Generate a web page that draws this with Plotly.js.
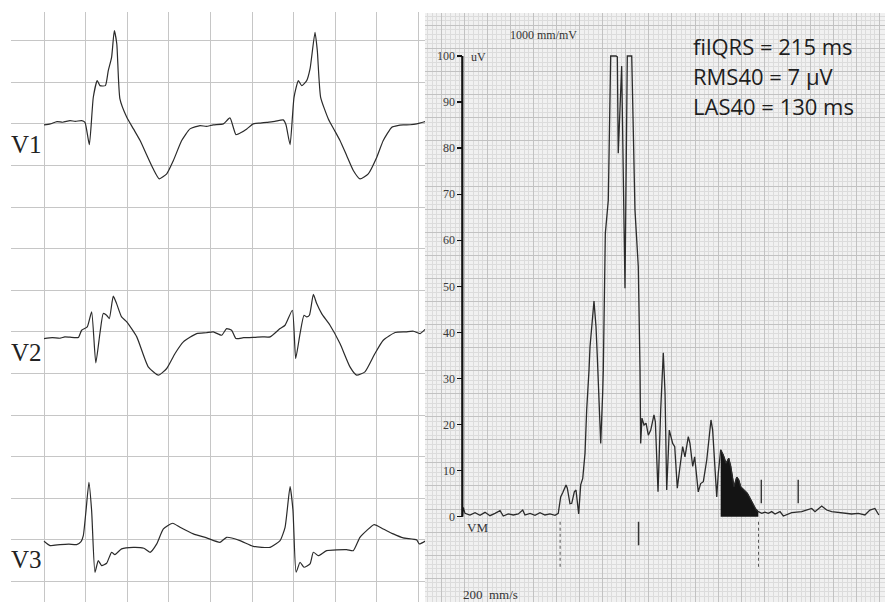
<!DOCTYPE html>
<html>
<head>
<meta charset="utf-8">
<script src="https://cdn.plot.ly/plotly-3.0.1.min.js"></script>
<style>html,body{margin:0;padding:0;background:#fff;}#chart{width:885px;height:602px;}</style>
</head>
<body>
<div id="chart"></div>
<script>
// ---------- DATA ----------
// Left panel: three ECG leads, time in seconds, amplitude in mV (relative to each lead's baseline)
const leadNames = ["V1", "V2", "V3"];

const v1Time = [0, 0.03, 0.0625, 0.09, 0.125, 0.15, 0.181, 0.197, 0.218, 0.237, 0.256, 0.269, 0.295, 0.309, 0.325, 0.338, 0.35, 0.365, 0.398, 0.43, 0.462, 0.495, 0.525, 0.554, 0.59, 0.622, 0.662, 0.702, 0.75, 0.78, 0.814, 0.862, 0.894, 0.923, 0.95, 0.975, 1.006, 1.04, 1.071, 1.11, 1.15, 1.163, 1.183, 1.202, 1.223, 1.239, 1.263, 1.279, 1.303, 1.314, 1.33, 1.367, 1.395, 1.423, 1.455, 1.487, 1.519, 1.559, 1.6, 1.631, 1.672, 1.70, 1.727, 1.76, 1.792, 1.837];
const v1mV   = [-0.012, 0.0, 0.028, 0.02, 0.04, 0.03, 0.04, 0.019, -0.249, 0.32, 0.52, 0.46, 0.46, 0.64, 0.80, 1.12, 0.96, 0.30, 0.079, -0.06, -0.20, -0.38, -0.54, -0.66, -0.60, -0.44, -0.20, -0.06, -0.02, -0.03, -0.012, 0, 0.072, -0.129, -0.10, -0.06, 0, 0.01, 0.019, 0.03, 0.048, -0.008, -0.249, 0.32, 0.52, 0.46, 0.52, 0.66, 1.10, 0.88, 0.32, 0.06, -0.07, -0.20, -0.38, -0.56, -0.66, -0.60, -0.40, -0.20, -0.04, -0.02, -0.012, -0.01, 0, 0.031];

const v2Time = [0, 0.04, 0.077, 0.1, 0.125, 0.165, 0.181, 0.208, 0.229, 0.249, 0.269, 0.285, 0.301, 0.314, 0.333, 0.349, 0.373, 0.398, 0.446, 0.501, 0.55, 0.59, 0.63, 0.67, 0.734, 0.78, 0.814, 0.854, 0.878, 0.902, 0.923, 0.96, 1.006, 1.05, 1.087, 1.135, 1.159, 1.194, 1.21, 1.231, 1.25, 1.263, 1.276, 1.295, 1.311, 1.335, 1.375, 1.423, 1.471, 1.503, 1.543, 1.591, 1.631, 1.688, 1.74, 1.776, 1.808, 1.832];
const v2mV   = [-0.08, -0.07, -0.076, -0.06, -0.064, -0.067, 0.02, 0.06, 0.24, -0.373, -0.016, 0.221, 0.20, 0.16, 0.429, 0.34, 0.18, 0.12, -0.06, -0.42, -0.52, -0.44, -0.26, -0.12, -0.02, -0.01, 0, -0.04, 0.04, 0.02, -0.08, -0.07, -0.067, -0.06, -0.06, 0.04, 0.08, 0.26, -0.32, -0.02, 0.20, 0.18, 0.20, 0.45, 0.34, 0.22, 0.08, -0.14, -0.42, -0.52, -0.48, -0.26, -0.10, -0.007, 0.0, 0.008, -0.02, 0.03];

const v3Time = [0, 0.029, 0.077, 0.12, 0.157, 0.178, 0.189, 0.202, 0.216, 0.229, 0.245, 0.261, 0.277, 0.301, 0.325, 0.341, 0.373, 0.429, 0.48, 0.51, 0.542, 0.574, 0.619, 0.654, 0.718, 0.782, 0.846, 0.878, 0.942, 1.006, 1.087, 1.135, 1.159, 1.183, 1.197, 1.212, 1.231, 1.25, 1.279, 1.295, 1.319, 1.359, 1.455, 1.487, 1.519, 1.551, 1.587, 1.631, 1.679, 1.727, 1.792, 1.804, 1.837];
const v3mV   = [-0.017, -0.069, -0.056, -0.05, -0.056, -0.02, 0.052, 0.352, 0.692, 0.352, -0.389, -0.249, -0.309, -0.281, -0.149, -0.177, -0.108, -0.089, -0.10, -0.149, -0.048, 0.132, 0.20, 0.151, 0.072, 0.024, -0.029, 0.031, -0.008, -0.077, -0.089, -0.008, 0.151, 0.64, 0.352, -0.389, -0.269, -0.329, -0.288, -0.149, -0.189, -0.129, -0.117, -0.129, 0.031, 0.112, 0.184, 0.132, 0.072, 0.024, 0, -0.048, -0.008];

// Right panel: signal-averaged vector magnitude, time in ms, amplitude in µV
const vmTime = [0, 1.1, 2.9, 8.3, 13.8, 19.2, 24.6, 30.0, 35.4, 40.9, 44.4, 49.8, 55.3, 60.7, 65.5, 67.9, 73.4, 78.8, 84.2, 89.6, 95.0, 100.5, 104.0, 106.6, 108.8, 112.4, 113.8, 116.7, 118.6, 121.4, 123.2, 126.1, 128.3, 130.5, 133.0, 134.8, 137.3, 138.4, 142.7, 144.9, 146.3, 150.0, 152.1, 152.8, 155.0, 158.2, 160.8, 166.6, 168.0, 169.0, 172.7, 176.3, 178.8, 183.6, 187.1, 190.7, 192.6, 193.3, 194.7, 196.9, 199.1, 201.6, 204.2, 207.7, 209.2, 212.1, 215.0, 217.8, 219.7, 221.5, 224.3, 228.0, 230.2, 233.0, 235.9, 238.8, 241.3, 244.9, 246.7, 249.7, 251.8, 255.7, 258.3, 261.2, 264.9, 267.7, 269.5, 271.3, 273.8, 275.7, 277.4, 280.0, 282.8, 285.8, 288.7, 290.9, 294.4, 297.4, 299.5, 301.7, 305.3, 308.8, 311.8, 314.7, 317.5, 320.8, 324.5, 328.0, 331.6, 335.3, 338.9, 344.3, 347.9, 357.0, 367.8, 378.6, 382.2, 389.5, 394.9, 400.3, 411.1, 421.9, 429.1, 436.3, 441.7, 447.1, 451.4];
const vmMicroV = [0, 2.0, 0.73, 0.37, 0.87, 0.3, 0.95, 0.22, 0.73, 1.3, 0.15, 0.59, 0.37, 0.59, 1.45, 0.37, 0.73, 0.3, 0.87, 0.37, 0.59, 0.3, 0.73, 4.3, 5.2, 6.9, 6.2, 2.8, 2.9, 5.4, 5.8, 0.6, 6.9, 8.3, 13.8, 23.2, 31.8, 36.9, 46.8, 41.2, 34.7, 15.9, 26.8, 31.8, 61.5, 68.7, 100, 100, 99.8, 78.9, 97.8, 49.6, 100, 100, 66.6, 54.3, 31.8, 15.9, 21.4, 19.9, 20.3, 17.7, 18.8, 22.1, 20.6, 5.4, 23.2, 35.6, 26.8, 5.8, 18.8, 15.9, 15.2, 6.2, 10.9, 15.2, 13.0, 17.4, 15.9, 10.9, 13.0, 5.4, 7.2, 7.6, 12.3, 17.4, 21.0, 18.8, 9.4, 4.3, 9.4, 14.5, 13.4, 11.6, 12.7, 10.9, 6.5, 8.6, 8.0, 6.5, 5.8, 5.1, 4.0, 2.9, 1.8, 1.1, 0.73, 1.0, 0.73, 1.1, 0.59, 1.1, 0.15, 0.87, 1.1, 1.8, 1.1, 2.3, 1.45, 1.1, 0.87, 0.59, 0.73, 0.37, 1.45, 1.8, 0.37];

// Measurement markers (ms)
const qrsOnset = 106;
const qrsOffset = 321;
const las40Start = 191;          // start of low-amplitude signal (< 40 µV)
const rms40Start = 281;          // last 40 ms of QRS (shaded)
const extraMarks = [324, 364];
const vmTickVals = [0, 10, 20, 30, 40, 50, 60, 70, 80, 90, 100];
const statLines = ["filQRS = 215 ms", "RMS40 = 7 µV", "LAS40 = 130 ms"];

// ---------- LAYOUT CONFIG (positions / styles) ----------
const W = 885, H = 602;
const leadBaseline = {V1: -1.0, V2: -3.5, V3: -6.0};
const leadLabelY = {V1: 144, V2: 352, V3: 559};
const traceColor = "#2b2b2b";

const leadData = {V1: [v1Time, v1mV], V2: [v2Time, v2mV], V3: [v3Time, v3mV]};
const traces = [];
leadNames.forEach(n => {
  const [t, v] = leadData[n];
  traces.push({x: t, y: v.map(a => a + leadBaseline[n]), xaxis: "x", yaxis: "y",
    mode: "lines", line: {color: traceColor, width: 1.2, shape: "spline", smoothing: 0.5}, hoverinfo: "skip"});
});

// shaded last-40ms region
const shT = [], shV = [];
vmTime.forEach((t, i) => { if (t >= rms40Start - 1.5 && t <= qrsOffset) { shT.push(t); shV.push(vmMicroV[i]); } });
traces.push({x: shT, y: shV, xaxis: "x2", yaxis: "y2", mode: "lines", fill: "tozeroy",
  fillcolor: "#141414", line: {color: "#141414", width: 1}, hoverinfo: "skip"});
traces.push({x: vmTime, y: vmMicroV, xaxis: "x2", yaxis: "y2", mode: "lines",
  line: {color: traceColor, width: 1.3}, hoverinfo: "skip"});

// marker ticks
[qrsOnset, qrsOffset].forEach(m => traces.push({x: [m, m], y: [-1.1, -10.9], xaxis: "x2", yaxis: "y2",
  mode: "lines", line: {color: "#555", width: 1, dash: "dot"}, hoverinfo: "skip"}));
traces.push({x: [las40Start, las40Start], y: [-1.1, -6.2], xaxis: "x2", yaxis: "y2",
  mode: "lines", line: {color: "#333", width: 1.5}, hoverinfo: "skip"});
extraMarks.forEach(m => traces.push({x: [m, m], y: [2.9, 8.0], xaxis: "x2", yaxis: "y2",
  mode: "lines", line: {color: "#333", width: 1.4}, hoverinfo: "skip"}));
// carrier for the labelled µV axis
traces.push({x: [0], y: [0], xaxis: "x2", yaxis: "y3", mode: "markers", marker: {opacity: 0}, hoverinfo: "skip"});

const px2msX = 0.9228, zeroPx = 462.3;   // right panel scale
const pxPerMicroV = 4.607, zeroPy = 516.7;
const x2range = [(425 - zeroPx) / px2msX, (W - zeroPx) / px2msX];
const y2range = [(zeroPy - H) / pxPerMicroV, (zeroPy - 13) / pxPerMicroV];

const serif = "Liberation Serif, Times New Roman, serif";
const annotations = [];
leadNames.forEach(n => annotations.push({text: n, xref: "paper", yref: "paper",
  x: 9 / W, y: 1 - leadLabelY[n] / H, xanchor: "left", yanchor: "middle", showarrow: false,
  font: {family: serif, size: 25, color: "#222"}}));
statLines.forEach((s, i) => annotations.push({text: s, xref: "paper", yref: "paper",
  x: 691 / W, y: 1 - (46 + 30 * i) / H, xanchor: "left", yanchor: "middle", showarrow: false,
  font: {family: "Open Sans, sans-serif", size: 22, color: "#1e1e1e"}}));
annotations.push({text: "1000 mm/mV", xref: "paper", yref: "paper", x: 543 / W, y: 1 - 26 / H,
  showarrow: false, font: {family: serif, size: 12, color: "#333"}});
annotations.push({text: "uV", xref: "paper", yref: "paper", x: 478 / W, y: 1 - 48 / H,
  showarrow: false, font: {family: serif, size: 12, color: "#333"}});
annotations.push({text: "VM", xref: "paper", yref: "paper", x: 477 / W, y: 1 - 537 / H,
  showarrow: false, font: {family: serif, size: 13, color: "#333"}});
annotations.push({text: "200  mm/s", xref: "paper", yref: "paper", x: 461 / W, y: 1 - 585 / H,
  xanchor: "left", yanchor: "top", showarrow: false, font: {family: serif, size: 13, color: "#333"}});

const layout = {
  width: W, height: H, margin: {l: 0, r: 0, t: 0, b: 0}, showlegend: false,
  font: {family: serif, color: "#333"},
  paper_bgcolor: "#ffffff", plot_bgcolor: "rgba(0,0,0,0)",
  xaxis: {domain: [11 / W, 425 / W], range: [(11 - 44) / 208, (425 - 44) / 208], tick0: 0, dtick: 0.2,
    showgrid: true, gridcolor: "#c6c6c6", gridwidth: 1, zeroline: false, showticklabels: false, ticks: "", showline: false},
  yaxis: {domain: [0, 1 - 12 / H], range: [-(H - 40.7) / 83.2, (40.7 - 12) / 83.2], tick0: 0, dtick: 0.5,
    showgrid: true, gridcolor: "#c6c6c6", gridwidth: 1, zeroline: false, showticklabels: false, ticks: "", showline: false},
  xaxis2: {domain: [425 / W, 1], range: x2range, anchor: "y2", tick0: -22.8, dtick: 25,
    showgrid: true, gridcolor: "#c2c2c2", gridwidth: 1, zeroline: false, showticklabels: false, ticks: "",
    minor: {tick0: -22.8, dtick: 5, showgrid: true, gridcolor: "#dcdcdc", gridwidth: 1, ticks: ""}},
  yaxis2: {domain: [0, 1 - 13 / H], range: y2range, anchor: "x2", tick0: 1.67, dtick: 5,
    showgrid: true, gridcolor: "#c2c2c2", gridwidth: 1, zeroline: false, showticklabels: false, ticks: "",
    minor: {tick0: 1.67, dtick: 1, showgrid: true, gridcolor: "#dcdcdc", gridwidth: 1, ticks: ""}},
  yaxis3: {overlaying: "y2", anchor: "free", position: zeroPx / W, side: "left", range: y2range,
    color: "#3a3a3a",
    tickmode: "array", tickvals: vmTickVals, ticks: "outside", ticklen: 5, tickwidth: 1.4, tickcolor: "#111",
    showgrid: false, zeroline: false, showline: false, tickfont: {family: serif, size: 12, color: "#3a3a3a"}},
  shapes: [
    {type: "rect", xref: "paper", yref: "paper", x0: 425 / W, x1: 1, y0: 0, y1: 1 - 13 / H, layer: "below",
      fillcolor: "#f1f1f1", line: {width: 0}},
    {type: "line", xref: "x2", yref: "y2", x0: 0, x1: 0, y0: 0, y1: 100, line: {color: "#111", width: 2.2}}
  ],
  annotations: annotations
};

Plotly.newPlot("chart", traces, layout, {staticPlot: true, displayModeBar: false});
</script>
</body>
</html>
